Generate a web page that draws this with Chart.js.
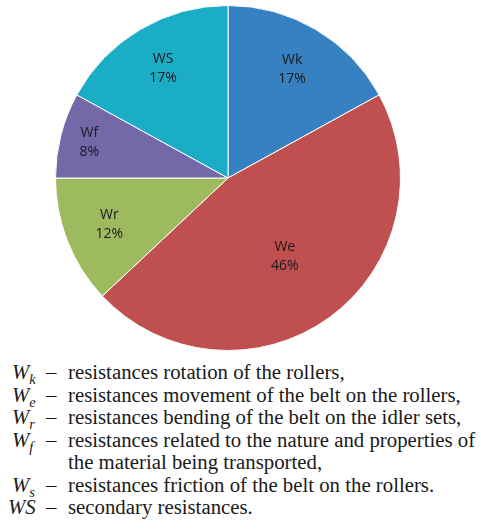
<!DOCTYPE html>
<html>
<head>
<meta charset="utf-8">
<script src="https://cdn.jsdelivr.net/npm/chart.js@4/dist/chart.umd.min.js"></script>
<style>
  html, body { margin: 0; padding: 0; background: #fff; }
  #wrap { position: relative; width: 481px; height: 530px; overflow: hidden; }
  #pie { position: absolute; left: 0; top: 0; }
  .row { position: absolute; left: 0; height: 22.5px; line-height: 22.5px;
         font-family: "Liberation Serif", "Times New Roman", serif; font-size: 20.8px; color: #1a1a1a; white-space: nowrap; }
  .sym { position: absolute; font-style: italic; }
  .sym sub { font-size: 14.5px; vertical-align: -5px; line-height: 0; }
  .dash { position: absolute; left: 46px; }
  .txt { position: absolute; left: 68px; }
</style>
</head>
<body>
<div id="wrap">
  <canvas id="pie" width="456" height="356"></canvas>
  <div id="legend"></div>
</div>
<script>
// Pie slices, clockwise from 12 o'clock
const categories = ['Wk', 'We', 'Wr', 'Wf', 'WS'];
const shares = [17, 46, 12, 8, 17];
const sliceColors = ['#3581c1', '#c0504f', '#9dba5e', '#7468a9', '#1badc6'];

// Legend under the chart: symbol, subscript, description lines
const legendSymbols = ['W', 'W', 'W', 'W', 'W', 'WS'];
const legendSubs = ['k', 'e', 'r', 'f', 's', ''];
const legendTexts = [
  ['resistances rotation of the rollers,'],
  ['resistances movement of the belt on the rollers,'],
  ['resistances bending of the belt on the idler sets,'],
  ['resistances related to the nature and properties of', 'the material being transported,'],
  ['resistances friction of the belt on the rollers.'],
  ['secondary resistances.'],
];

// Excel "best fit" places the labels at different depths in each slice
const labelDepth = [0.73, 0.56, 0.74, 0.83, 0.74];

const sliceLabels = {
  id: 'sliceLabels',
  afterDatasetsDraw(chart) {
    const ctx = chart.ctx;
    const total = shares.reduce((a, b) => a + b, 0);
    chart.getDatasetMeta(0).data.forEach((arc, i) => {
      const p = arc.getProps(['x', 'y', 'startAngle', 'endAngle', 'outerRadius'], true);
      const mid = (p.startAngle + p.endAngle) / 2;
      const r = p.outerRadius * labelDepth[i];
      const cx = p.x + Math.cos(mid) * r;
      const cy = p.y + Math.sin(mid) * r;
      ctx.save();
      ctx.fillStyle = '#1a1a1a';
      ctx.font = '14px "Open Sans", sans-serif';
      ctx.textAlign = 'center';
      ctx.textBaseline = 'middle';
      ctx.fillText(categories[i], cx, cy - 9.5);
      ctx.fillText(Math.round(shares[i] / total * 100) + '%', cx, cy + 9.5);
      ctx.restore();
    });
  },
};

new Chart(document.getElementById('pie').getContext('2d'), {
  type: 'pie',
  data: {
    labels: categories,
    datasets: [{
      data: shares,
      backgroundColor: sliceColors,
      borderColor: '#ffffff',
      borderWidth: 1,
    }],
  },
  options: {
    responsive: false,
    animation: false,
    layout: { padding: { top: 5, bottom: 5 } },
    plugins: {
      legend: { display: false },
      tooltip: { enabled: false },
    },
  },
  plugins: [sliceLabels],
});

// Build the text legend
const legend = document.getElementById('legend');
let rowTop = 361;
legendSymbols.forEach((sym, i) => {
  legendTexts[i].forEach((line, j) => {
    const row = document.createElement('div');
    row.className = 'row';
    row.style.top = rowTop + 'px';
    if (j === 0) {
      const s = document.createElement('span');
      s.className = 'sym';
      s.style.left = legendSubs[i] ? '12px' : '8px';
      s.innerHTML = sym + (legendSubs[i] ? '<sub>' + legendSubs[i] + '</sub>' : '');
      row.appendChild(s);
      const d = document.createElement('span');
      d.className = 'dash';
      d.textContent = '\u2013';
      row.appendChild(d);
    }
    const t = document.createElement('span');
    t.className = 'txt';
    t.textContent = line;
    row.appendChild(t);
    legend.appendChild(row);
    rowTop += 22.5;
  });
});
</script>
</body>
</html>
